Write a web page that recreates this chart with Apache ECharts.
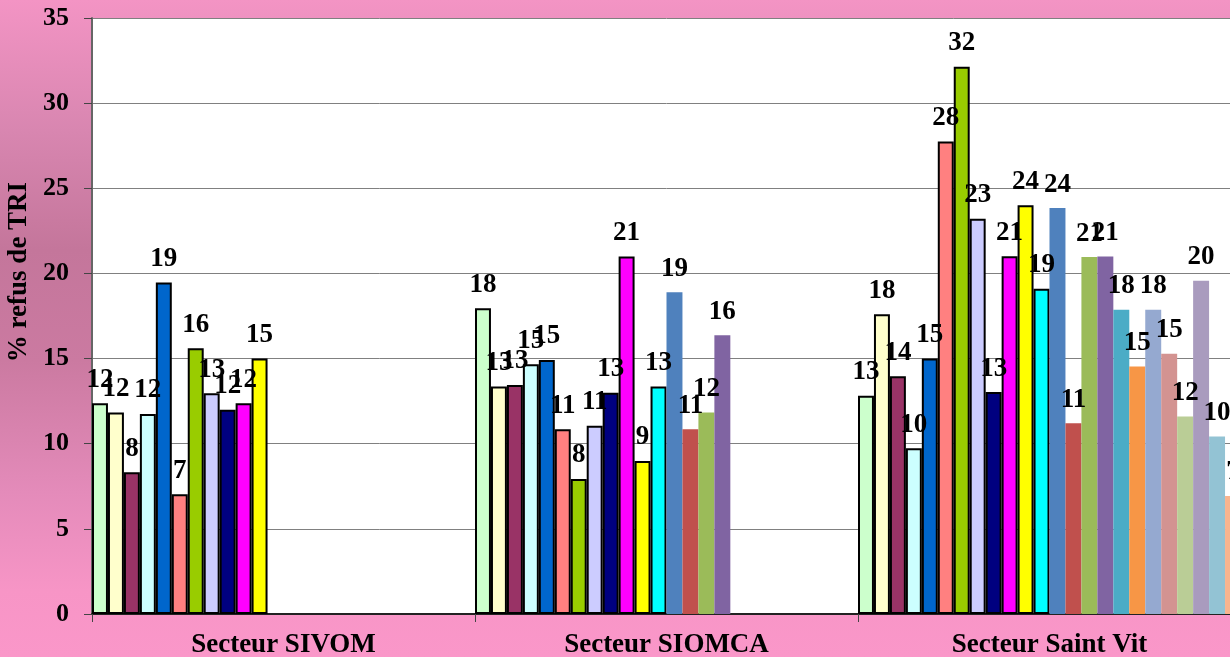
<!DOCTYPE html>
<html>
<head>
<meta charset="utf-8">
<script src="https://cdn.jsdelivr.net/npm/echarts@6/dist/echarts.min.js"></script>
<style>
  html, body { margin: 0; padding: 0; overflow: hidden; background: #f896c8; }
  #chart { width: 1241px; height: 657px; }
</style>
</head>
<body>
<div id="chart"></div>
<script>
// Categories (sectors)
const categories = ['Secteur SIVOM', 'Secteur SIOMCA', 'Secteur Saint Vit'];

// Values per sector, one value per series slot (series 1..24)
const sivomValues = [12.38, 11.83, 8.32, 11.75, 19.47, 7.03, 15.61, 12.97, 11.99, 12.38, 15.0];
const siomcaValues = [17.96, 13.36, 13.45, 14.67, 14.92, 10.85, 7.93, 11.05, 13.0, 20.99, 8.99, 13.36, 18.9, 10.85, 11.83, 16.37];
const saintVitValues = [12.81, 17.6, 13.96, 9.73, 15.01, 27.75, 32.13, 23.21, 13.03, 21.01, 24.0, 19.1, 23.84, 11.2, 20.96, 21.0, 17.86, 14.53, 17.86, 15.28, 11.6, 19.57, 10.42, 6.93];

// Y axis ticks
const yTicks = [0, 5, 10, 15, 20, 25, 30, 35];
const yTitle = '% refus de TRI';

// Series colours
const seriesColors = [
  '#CCFFCC', '#FFFFCC', '#993366', '#CCFFFF', '#0066CC', '#FF8080',
  '#99CC00', '#CCCCFF', '#000080', '#FF00FF', '#FFFF00', '#00FFFF',
  '#4F81BD', '#C0504D', '#9BBB59', '#8064A2', '#4BACC6', '#F79646',
  '#95A9D0', '#D39391', '#BACD96', '#A99BBE', '#93C3D4', '#F9B48E'
];
const borderedCount = 12;

const FONT = "'Liberation Serif', 'Times New Roman', serif";
const nSeries = saintVitValues.length;
const pick = (arr, i) => (i < arr.length ? arr[i] : '-');

const series = [];
for (let i = 0; i < nSeries; i++) {
  series.push({
    type: 'bar',
    name: 'S' + (i + 1),
    data: [pick(sivomValues, i), pick(siomcaValues, i), pick(saintVitValues, i)],
    barGap: '0%',
    barCategoryGap: '0%',
    itemStyle: {
      color: seriesColors[i],
      borderColor: '#000',
      borderWidth: i < borderedCount ? 2 : 0
    },
    label: {
      show: true,
      position: 'top',
      distance: 10,
      formatter: p => Math.round(p.value),
      fontFamily: FONT,
      fontWeight: 'bold',
      fontSize: 27,
      color: '#000'
    },
    animation: false
  });
}

const chart = echarts.init(document.getElementById('chart'));
chart.setOption({
  animation: false,
  backgroundColor: {
    type: 'linear', x: 0, y: 0, x2: 0, y2: 1,
    colorStops: [
      { offset: 0, color: '#f394c4' },
      { offset: 0.2, color: '#d886b0' },
      { offset: 0.38, color: '#c4769b' },
      { offset: 0.55, color: '#cb7aa1' },
      { offset: 0.75, color: '#e48bba' },
      { offset: 0.9, color: '#f795c6' },
      { offset: 1, color: '#fa97c9' }
    ]
  },
  grid: {
    left: 92, right: 0, top: 18, bottom: 43,
    outerBoundsMode: 'none',
    containLabel: false,
    show: true, backgroundColor: '#ffffff', borderWidth: 0
  },
  xAxis: {
    type: 'category',
    data: categories,
    boundaryGap: true,
    axisLine: { show: true, lineStyle: { color: '#222', width: 2 } },
    axisTick: { show: true, length: 8, alignWithLabel: false, lineStyle: { color: '#444' } },
    axisLabel: {
      margin: 18, fontFamily: FONT, fontWeight: 'bold', fontSize: 27, color: '#000'
    },
    splitLine: { show: false }
  },
  yAxis: {
    type: 'value',
    min: yTicks[0], max: yTicks[yTicks.length - 1], interval: yTicks[1] - yTicks[0],
    name: yTitle,
    nameLocation: 'middle',
    nameGap: 58,
    nameTextStyle: {
      fontFamily: FONT, fontWeight: 'bold', fontSize: 27, color: '#000',
      padding: [0, 0, 0, 88]
    },
    axisLine: { show: true, lineStyle: { color: '#666', width: 2 } },
    axisTick: { show: true, length: 8, lineStyle: { color: '#444' } },
    axisLabel: {
      margin: 23, fontFamily: FONT, fontWeight: 'bold', fontSize: 26, color: '#000'
    },
    splitLine: { show: true, lineStyle: { color: '#808080', width: 1 } }
  },
  series: series
});
</script>
</body>
</html>
